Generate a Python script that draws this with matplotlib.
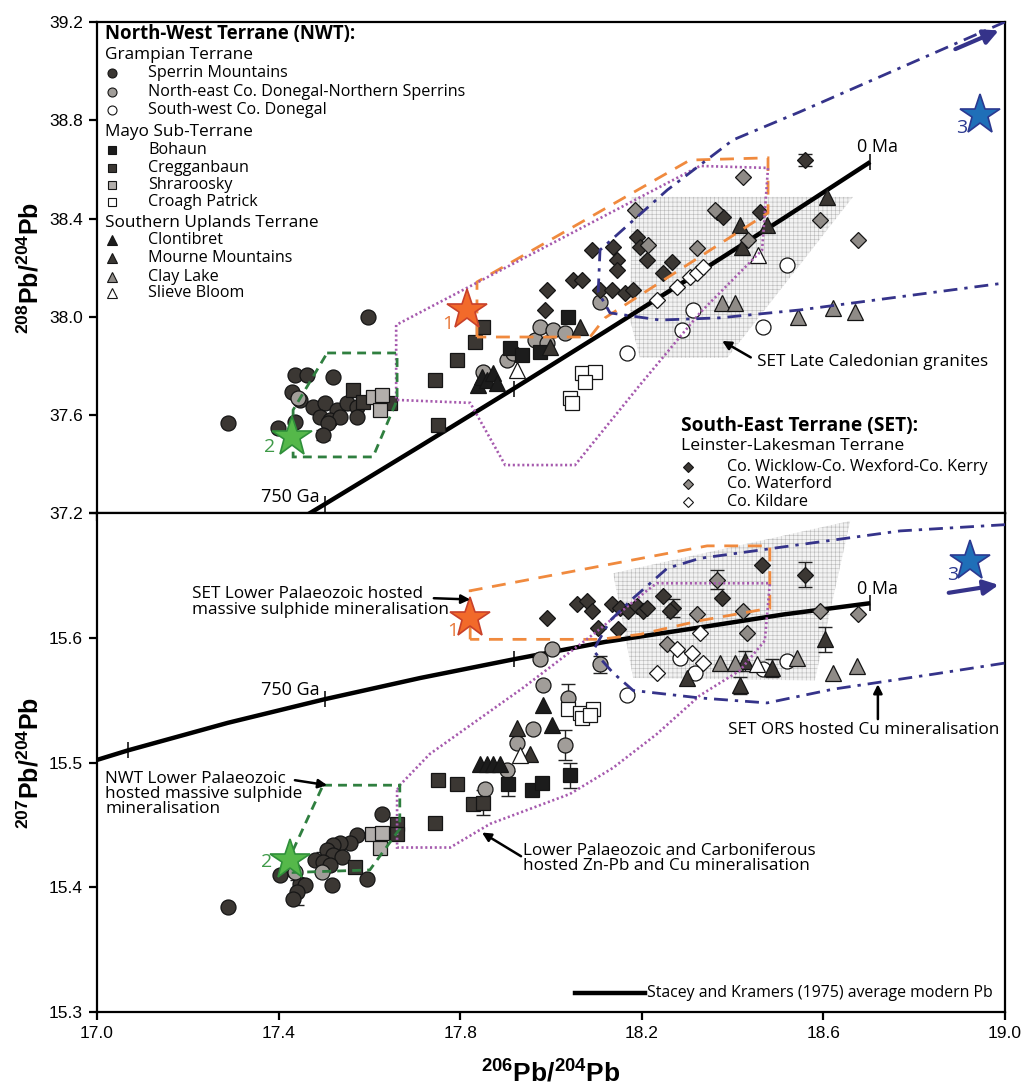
import matplotlib
matplotlib.use('Agg')
import matplotlib.pyplot as plt
from matplotlib.patches import Polygon

plt.rcParams['font.family'] = ['Liberation Sans', 'DejaVu Sans']
plt.rcParams['mathtext.fontset'] = 'custom'
plt.rcParams['mathtext.bf'] = 'Liberation Sans:bold'
plt.rcParams['mathtext.rm'] = 'Liberation Sans'
plt.rcParams['hatch.linewidth'] = 0.4

TXT = ['Open Sans', 'DejaVu Sans']

# Stacey & Kramers (1975) average crustal growth curve, ages in Ma
sk_age = [1125, 1000, 875, 750, 625, 500, 375, 250, 125, 0]
sk_206 = [16.846, 17.069, 17.288, 17.502, 17.712, 17.918, 18.120, 18.318, 18.513, 18.703]
sk_207 = [15.485, 15.510, 15.532, 15.551, 15.568, 15.583, 15.597, 15.608, 15.619, 15.628]
sk_208 = [36.522, 36.762, 37.000, 37.238, 37.474, 37.708, 37.941, 38.172, 38.402, 38.630]
sk_marks = [1000, 750, 500, 0]

# ---- 208Pb/204Pb vs 206Pb/204Pb samples ----
sperrin_top = [(17.597, 38.000), (17.289, 37.568), (17.436, 37.764), (17.463, 37.764), (17.520, 37.755),
               (17.430, 37.694), (17.447, 37.662), (17.476, 37.633), (17.502, 37.650), (17.529, 37.621),
               (17.551, 37.650), (17.573, 37.633), (17.491, 37.593), (17.513, 37.580), (17.535, 37.593),
               (17.573, 37.593), (17.509, 37.568), (17.498, 37.519), (17.399, 37.548), (17.436, 37.572)]
ne_donegal_top = [(17.443, 37.670), (17.850, 37.776), (17.903, 37.825), (17.916, 37.853), (17.965, 37.906),
                  (17.976, 37.959), (17.991, 37.894), (18.004, 37.947), (18.031, 37.935), (18.108, 38.061)]
sw_donegal_top = [(18.167, 37.853), (18.289, 37.947), (18.313, 38.028), (18.467, 37.959), (18.520, 38.211)]
bohaun_top = [(17.910, 37.873), (17.936, 37.845), (17.976, 37.857), (18.037, 38.000)]
cregganbaun_top = [(17.564, 37.703), (17.586, 37.654), (17.645, 37.650), (17.744, 37.743), (17.793, 37.825),
                   (17.833, 37.898), (17.850, 37.959), (17.751, 37.560)]
shraroosky_top = [(17.608, 37.674), (17.628, 37.682), (17.623, 37.621)]
croagh_top = [(18.068, 37.772), (18.097, 37.776), (18.075, 37.735), (18.042, 37.670), (18.046, 37.650)]
clontibret_top = [(17.839, 37.723), (17.848, 37.755), (17.859, 37.743), (17.872, 37.772), (17.881, 37.731)]
mourne_top = [(17.998, 37.878), (18.064, 37.959), (18.416, 38.374), (18.421, 38.284), (18.476, 38.374),
              (18.608, 38.488)]
clay_lake_top = [(18.377, 38.057), (18.405, 38.057), (18.544, 38.000), (18.621, 38.036), (18.670, 38.020)]
slieve_bloom_top = [(17.925, 37.784), (18.456, 38.252)]
wicklow_top = [(18.559, 38.638), (17.991, 38.109), (17.987, 38.028), (18.048, 38.150), (18.068, 38.150),
               (18.090, 38.272), (18.108, 38.109), (18.137, 38.284), (18.145, 38.232), (18.145, 38.191),
               (18.134, 38.109), (18.163, 38.097), (18.181, 38.109), (18.189, 38.325), (18.196, 38.284),
               (18.211, 38.232), (18.267, 38.223), (18.247, 38.179), (18.366, 38.427), (18.379, 38.407),
               (18.460, 38.427)]
waterford_top = [(18.185, 38.435), (18.214, 38.293), (18.322, 38.280), (18.423, 38.569), (18.434, 38.313),
                 (18.593, 38.394), (18.676, 38.313), (18.362, 38.435)]
kildare_top = [(18.233, 38.069), (18.278, 38.122), (18.306, 38.162), (18.322, 38.179), (18.335, 38.203)]

# ---- 207Pb/204Pb vs 206Pb/204Pb samples ----
sperrin_bot = [(17.628, 15.459), (17.573, 15.442), (17.557, 15.436), (17.535, 15.436), (17.520, 15.434),
               (17.507, 15.430), (17.520, 15.426), (17.540, 15.424), (17.480, 15.422), (17.498, 15.420),
               (17.513, 15.418), (17.432, 15.414), (17.403, 15.410), (17.447, 15.403), (17.458, 15.402),
               (17.441, 15.396), (17.432, 15.391), (17.518, 15.402), (17.595, 15.407), (17.289, 15.384)]
ne_donegal_bot = [(17.976, 15.583), (18.002, 15.591), (17.982, 15.562), (18.037, 15.552), (17.960, 15.527),
                  (17.925, 15.516), (17.903, 15.494), (17.855, 15.479), (18.031, 15.514), (18.108, 15.579),
                  (17.436, 15.412), (17.496, 15.412)]
sw_donegal_bot = [(18.167, 15.554), (18.284, 15.584), (18.317, 15.572), (18.520, 15.582), (18.467, 15.575)]
bohaun_bot = [(17.905, 15.483), (17.958, 15.478), (17.980, 15.484), (18.042, 15.490)]
cregganbaun_bot = [(17.751, 15.486), (17.793, 15.483), (17.828, 15.467), (17.850, 15.468), (17.744, 15.452),
                   (17.568, 15.416), (17.661, 15.451), (17.661, 15.443)]
shraroosky_bot = [(17.606, 15.443), (17.628, 15.444), (17.623, 15.432)]
croagh_bot = [(18.037, 15.543), (18.064, 15.540), (18.093, 15.543), (18.068, 15.536), (18.086, 15.538)]
clontibret_bot = [(17.844, 15.499), (17.859, 15.499), (17.872, 15.499), (17.888, 15.499), (17.982, 15.546),
                  (18.002, 15.530)]
mourne_bot = [(17.925, 15.528), (17.954, 15.507), (18.427, 15.582), (18.487, 15.576), (18.300, 15.568),
              (18.416, 15.562), (18.604, 15.599)]
clay_lake_bot = [(18.372, 15.580), (18.405, 15.580), (18.542, 15.584), (18.621, 15.572), (18.674, 15.578)]
slieve_bloom_bot = [(17.932, 15.506), (18.454, 15.579)]
wicklow_bot = [(17.991, 15.616), (18.057, 15.627), (18.079, 15.630), (18.090, 15.622), (18.104, 15.608),
               (18.134, 15.627), (18.152, 15.624), (18.170, 15.622), (18.189, 15.626), (18.203, 15.622),
               (18.148, 15.607), (18.247, 15.634), (18.269, 15.624), (18.377, 15.632), (18.465, 15.659),
               (18.559, 15.651), (18.211, 15.624), (18.262, 15.622)]
waterford_bot = [(18.366, 15.647), (18.322, 15.619), (18.423, 15.622), (18.432, 15.604), (18.593, 15.622),
                 (18.676, 15.619), (18.256, 15.595)]
kildare_bot = [(18.328, 15.604), (18.233, 15.572), (18.311, 15.588), (18.335, 15.580), (18.278, 15.591)]

# 2-sigma uncertainties where they show beyond the symbol: (x, y, err)
err_bot = [(17.441, 15.396, 0.010), (17.498, 15.420, 0.008), (18.559, 15.651, 0.010), (18.366, 15.647, 0.008),
           (18.037, 15.552, 0.011), (18.031, 15.514, 0.012), (18.042, 15.490, 0.010), (17.850, 15.468, 0.010),
           (17.905, 15.483, 0.010), (18.604, 15.599, 0.010), (18.427, 15.582, 0.008), (18.487, 15.576, 0.007),
           (18.269, 15.624, 0.007), (18.108, 15.579, 0.007), (18.416, 15.562, 0.007)]
err_top = [(18.559, 38.638, 0.025), (17.498, 37.519, 0.020), (17.623, 37.621, 0.020), (18.046, 37.650, 0.020)]

# ---- mineralisation fields ----
set_vms_top = [(17.837, 37.918), (17.837, 38.142), (18.306, 38.638), (18.478, 38.647), (18.478, 38.423),
               (18.119, 37.996), (18.086, 37.918)]
set_vms_bot = [(17.822, 15.599), (17.822, 15.638), (18.344, 15.674), (18.482, 15.674), (18.482, 15.624),
               (18.328, 15.614), (18.196, 15.603), (18.108, 15.599)]
znpb_top = [(17.659, 37.967), (17.659, 37.662), (17.822, 37.650), (17.899, 37.397), (18.053, 37.397),
            (18.196, 37.723), (18.328, 38.016), (18.465, 38.272), (18.478, 38.606), (18.328, 38.614)]
znpb_bot = [(17.661, 15.478), (17.661, 15.432), (17.778, 15.432), (17.866, 15.451), (18.042, 15.475),
            (18.137, 15.496), (18.233, 15.523), (18.328, 15.554), (18.416, 15.574), (18.471, 15.598),
            (18.482, 15.644), (18.233, 15.644), (18.211, 15.638), (18.093, 15.603), (17.938, 15.560),
            (17.733, 15.507), (17.667, 15.482)]
nwt_vms_top = [(17.507, 37.853), (17.661, 37.853), (17.661, 37.662), (17.608, 37.430), (17.432, 37.430),
               (17.432, 37.621)]
nwt_vms_bot = [(17.498, 15.482), (17.667, 15.482), (17.667, 15.447), (17.601, 15.414), (17.432, 15.412),
               (17.432, 15.430)]
ors_cu_top = [(19.0, 39.2), (18.769, 39.013), (18.548, 38.834), (18.401, 38.720), (18.256, 38.516),
              (18.108, 38.272), (18.104, 38.101), (18.130, 38.016), (18.240, 37.987), (18.372, 37.996),
              (18.548, 38.028), (19.0, 38.138)]
ors_cu_bot = [(19.0, 15.691), (18.769, 15.686), (18.548, 15.675), (18.328, 15.664), (18.256, 15.656),
              (18.181, 15.632), (18.130, 15.614), (18.093, 15.590), (18.137, 15.572), (18.181, 15.558),
              (18.328, 15.552), (18.476, 15.548), (18.621, 15.559), (18.841, 15.571), (19.0, 15.580)]
granite_top = [(18.178, 38.488), (18.665, 38.488), (18.388, 37.833), (18.196, 37.833), (18.174, 37.987)]
granite_bot = [(18.137, 15.652), (18.659, 15.694), (18.581, 15.566), (18.181, 15.568)]

# end-member stars: (x, y) for top and bottom plots
star_labels = ['1', '2', '3']
stars_top = [(17.815, 38.028), (17.430, 37.511), (18.945, 38.822)]
stars_bot = [(17.822, 15.616), (17.425, 15.422), (18.923, 15.662)]

DARK = '#3b3733'
BLACK = '#1c1c1c'
GREY = '#8f8b87'
LIGHT = '#a19d99'
PALE = '#b2aeab'

groups = [
    ('Sperrin Mountains', sperrin_top, sperrin_bot, 'o', DARK, 10.8),
    ('North-east Co. Donegal-Northern Sperrins', ne_donegal_top, ne_donegal_bot, 'o', LIGHT, 10.8),
    ('South-west Co. Donegal', sw_donegal_top, sw_donegal_bot, 'o', 'white', 10.8),
    ('Bohaun', bohaun_top, bohaun_bot, 's', BLACK, 10),
    ('Cregganbaun', cregganbaun_top, cregganbaun_bot, 's', DARK, 10),
    ('Shraroosky', shraroosky_top, shraroosky_bot, 's', PALE, 10),
    ('Croagh Patrick', croagh_top, croagh_bot, 's', 'white', 10),
    ('Clontibret', clontibret_top, clontibret_bot, '^', BLACK, 11),
    ('Mourne Mountains', mourne_top, mourne_bot, '^', DARK, 11),
    ('Clay Lake', clay_lake_top, clay_lake_bot, '^', GREY, 11),
    ('Slieve Bloom', slieve_bloom_top, slieve_bloom_bot, '^', 'white', 11),
    ('Co. Wicklow-Co. Wexford-Co. Kerry', wicklow_top, wicklow_bot, 'D', DARK, 7.8),
    ('Co. Waterford', waterford_top, waterford_bot, 'D', GREY, 7.8),
    ('Co. Kildare', kildare_top, kildare_bot, 'D', 'white', 7.8),
]

ORANGE = '#f08a3e'
PURPLE = '#a65aae'
GREEN = '#2f7f3f'
NAVY = '#35338a'
star_colors = [('#f26a2a', '#c8412a'), ('#55b84a', '#2f8f3a'), ('#1f6fb8', '#2b3990')]
star_text = ['#e8783a', '#3f9a48', '#2b3990']


def draw_field(ax, pts, style, color, closed=True, lw=2.0):
    poly = Polygon(pts, closed=closed, fill=False, edgecolor=color, linestyle=style,
                   linewidth=lw, zorder=4)
    ax.add_patch(poly)


def draw_panel(ax, col, sk_y, fields, granite, stars, errs):
    ax.add_patch(Polygon(granite, closed=True, facecolor='#f3f3f3', edgecolor='#b9b9b9',
                         hatch='++++', linewidth=0, zorder=1))
    ax.plot(sk_206, sk_y, c='k', lw=3.2, zorder=2, solid_capstyle='butt')
    for age in sk_marks:
        i = sk_age.index(age)
        ax.plot(sk_206[i], sk_y[i], marker='|', ms=11, mew=1.1, c='k', zorder=2)
    ex = [e[0] for e in errs]
    ey = [e[1] for e in errs]
    ee = [e[2] for e in errs]
    ax.errorbar(ex, ey, yerr=ee, fmt='none', ecolor='#222222', elinewidth=1.0, capsize=5, capthick=1.0,
                zorder=2.5)
    for g in groups:
        pts = g[col]
        x = [p[0] for p in pts]
        y = [p[1] for p in pts]
        ax.plot(x, y, ls='none', marker=g[3], mfc=g[4], mec='#151515', mew=0.9, ms=g[5], zorder=3)
    vms, znpb, nwt, ors = fields
    draw_field(ax, vms, (0, (5, 3.5)), ORANGE, lw=2.0)
    draw_field(ax, znpb, (0, (0.8, 1.0)), PURPLE, lw=1.9)
    draw_field(ax, nwt, (0, (3.2, 2.2)), GREEN, lw=2.0)
    draw_field(ax, ors, (0, (5, 2.5, 1.2, 2.5)), NAVY, closed=False, lw=2.0)
    for (sx, sy), (fc, ec) in zip(stars, star_colors):
        ax.plot(sx, sy, marker='*', ms=30, mfc=fc, mec=ec, mew=1.2, zorder=5)


fig = plt.figure(figsize=(10.25, 10.86), dpi=100)
ax1 = fig.add_axes([0.0946, 0.5272, 0.8859, 0.4526])
ax2 = fig.add_axes([0.0946, 0.0681, 0.8859, 0.4591])

draw_panel(ax1, 1, sk_208, (set_vms_top, znpb_top, nwt_vms_top, ors_cu_top), granite_top, stars_top, err_top)
draw_panel(ax2, 2, sk_207, (set_vms_bot, znpb_bot, nwt_vms_bot, ors_cu_bot), granite_bot, stars_bot, err_bot)

for ax in (ax1, ax2):
    ax.set_xlim(17.0, 19.0)
    ax.set_xticks([17.0, 17.4, 17.8, 18.2, 18.6, 19.0])
    ax.tick_params(direction='out', length=6, width=1.6, labelsize=12.5, pad=4)
    for s in ax.spines.values():
        s.set_linewidth(1.6)

ax1.set_ylim(37.2, 39.2)
ax1.set_yticks([37.2, 37.6, 38.0, 38.4, 38.8, 39.2])
ax1.set_yticklabels(['%.1f' % v for v in [37.2, 37.6, 38.0, 38.4, 38.8, 39.2]])
ax1.tick_params(axis='x', labelbottom=False)
ax2.set_ylim(15.3, 15.7)
ax2.set_yticks([15.3, 15.4, 15.5, 15.6, 15.7])
ax2.set_yticklabels(['15.3', '15.4', '15.5', '15.6', ''])
ax2.set_xticklabels(['17.0', '17.4', '17.8', '18.2', '18.6', '19.0'])

ax1.set_ylabel(r'$\mathbf{^{208}Pb/^{204}Pb}$', fontsize=18, labelpad=4)
ax2.set_ylabel(r'$\mathbf{^{207}Pb/^{204}Pb}$', fontsize=18, labelpad=4)
ax2.set_xlabel(r'$\mathbf{^{206}Pb/^{204}Pb}$', fontsize=19, labelpad=14)

ANN = 12.3

# growth curve labels
for ax, y750, y0 in ((ax1, 37.267, 38.691), (ax2, 15.558, 15.639)):
    ax.text(17.491, y750, '750 Ga', ha='right', va='center', fontsize=13, family=TXT)
    ax.text(18.674, y0, '0 Ma', ha='left', va='center', fontsize=13, family=TXT)

# star numbers and the off-scale arrows for star 3
star_txt_top = [(17.772, 37.972), (17.381, 37.471), (18.905, 38.769)]
star_txt_bot = [(17.784, 15.606), (17.374, 15.420), (18.885, 15.651)]
for ax, pos in ((ax1, star_txt_top), (ax2, star_txt_bot)):
    for lab, (tx, ty), tc in zip(star_labels, pos, star_text):
        ax.text(tx, ty, lab, ha='center', va='center', fontsize=14, color=tc, family=TXT, zorder=6)
ax1.annotate('', xy=(18.992, 39.170), xytext=(18.885, 39.085),
             arrowprops=dict(arrowstyle='-|>', color=NAVY, lw=3, mutation_scale=22), zorder=6)
ax2.annotate('', xy=(18.992, 15.643), xytext=(18.870, 15.636),
             arrowprops=dict(arrowstyle='-|>', color=NAVY, lw=3, mutation_scale=22), zorder=6)

arrow = dict(arrowstyle='-|>', color='k', lw=1.8, mutation_scale=13, shrinkA=0, shrinkB=0)
ax1.annotate('', xy=(18.377, 37.902), xytext=(18.440, 37.835), arrowprops=arrow, zorder=6)
ax1.text(18.454, 37.816, 'SET Late Caledonian granites', ha='left', va='center', fontsize=ANN, family=TXT)

ax2.text(17.209, 15.629, 'SET Lower Palaeozoic hosted\nmassive sulphide mineralisation', ha='left',
         va='center', fontsize=ANN, family=TXT, linespacing=0.95)
ax2.annotate('', xy=(17.822, 15.631), xytext=(17.742, 15.632), arrowprops=arrow, zorder=6)
ax2.text(17.018, 15.475, 'NWT Lower Palaeozoic\nhosted massive sulphide\nmineralisation', ha='left',
         va='center', fontsize=ANN, family=TXT, linespacing=0.95)
ax2.annotate('', xy=(17.507, 15.482), xytext=(17.436, 15.486), arrowprops=arrow, zorder=6)
ax2.text(17.938, 15.423, 'Lower Palaeozoic and Carboniferous\nhosted Zn-Pb and Cu mineralisation',
         ha='left', va='center', fontsize=ANN, family=TXT, linespacing=0.95)
ax2.annotate('', xy=(17.848, 15.444), xytext=(17.934, 15.425), arrowprops=arrow, zorder=6)
ax2.text(18.390, 15.526, 'SET ORS hosted Cu mineralisation', ha='left', va='center', fontsize=ANN, family=TXT)
ax2.annotate('', xy=(18.720, 15.563), xytext=(18.720, 15.535), arrowprops=arrow, zorder=6)

ax2.plot([18.053, 18.207], [15.315, 15.315], c='k', lw=3.2)
ax2.text(18.211, 15.315, 'Stacey and Kramers (1975) average modern Pb', ha='left', va='center',
         fontsize=11.4, family=TXT)


# legends, drawn in axes fractions
def legend_block(ax, rows, x_mark, x_text, title_size, head_size):
    for kind, label, y, g in rows:
        if kind == 'title':
            ax.text(x_mark - 0.008, y, label, transform=ax.transAxes, fontsize=title_size,
                    fontweight='bold', va='center', ha='left', family=TXT)
        elif kind == 'head':
            ax.text(x_mark - 0.008, y, label, transform=ax.transAxes, fontsize=head_size, va='center',
                    ha='left', family=TXT)
        else:
            ax.plot(x_mark, y, transform=ax.transAxes, marker=g[3], mfc=g[4], mec='#151515', mew=0.8,
                    ms=g[5] * 0.6, ls='none', clip_on=False, zorder=6)
            ax.text(x_text, y, label, transform=ax.transAxes, fontsize=11.6, va='center', ha='left',
                    family=TXT)


gd = {g[0]: g for g in groups}
nwt_rows = [('title', 'North-West Terrane (NWT):', 0.9745, None),
            ('head', 'Grampian Terrane', 0.9325, None),
            ('item', 'Sperrin Mountains', 0.8962, gd['Sperrin Mountains']),
            ('item', 'North-east Co. Donegal-Northern Sperrins', 0.8576,
             gd['North-east Co. Donegal-Northern Sperrins']),
            ('item', 'South-west Co. Donegal', 0.8209, gd['South-west Co. Donegal']),
            ('head', 'Mayo Sub-Terrane', 0.7762, None),
            ('item', 'Bohaun', 0.7396, gd['Bohaun']),
            ('item', 'Cregganbaun', 0.7029, gd['Cregganbaun']),
            ('item', 'Shraroosky', 0.6684, gd['Shraroosky']),
            ('item', 'Croagh Patrick', 0.6338, gd['Croagh Patrick']),
            ('head', 'Southern Uplands Terrane', 0.5911, None),
            ('item', 'Clontibret', 0.5565, gd['Clontibret']),
            ('item', 'Mourne Mountains', 0.5198, gd['Mourne Mountains']),
            ('item', 'Clay Lake', 0.4812, gd['Clay Lake']),
            ('item', 'Slieve Bloom', 0.4486, gd['Slieve Bloom'])]
set_rows = [('title', 'South-East Terrane (SET):', 0.178, None),
            ('head', 'Leinster-Lakesman Terrane', 0.1374, None),
            ('item', 'Co. Wicklow-Co. Wexford-Co. Kerry', 0.0946, gd['Co. Wicklow-Co. Wexford-Co. Kerry']),
            ('item', 'Co. Waterford', 0.060, gd['Co. Waterford']),
            ('item', 'Co. Kildare', 0.0234, gd['Co. Kildare'])]
legend_block(ax1, nwt_rows, 0.0165, 0.0562, 13.4, 12.4)
legend_block(ax1, set_rows, 0.651, 0.6938, 13.8, 12.6)

fig.savefig('out.png', dpi=100, facecolor='white')
